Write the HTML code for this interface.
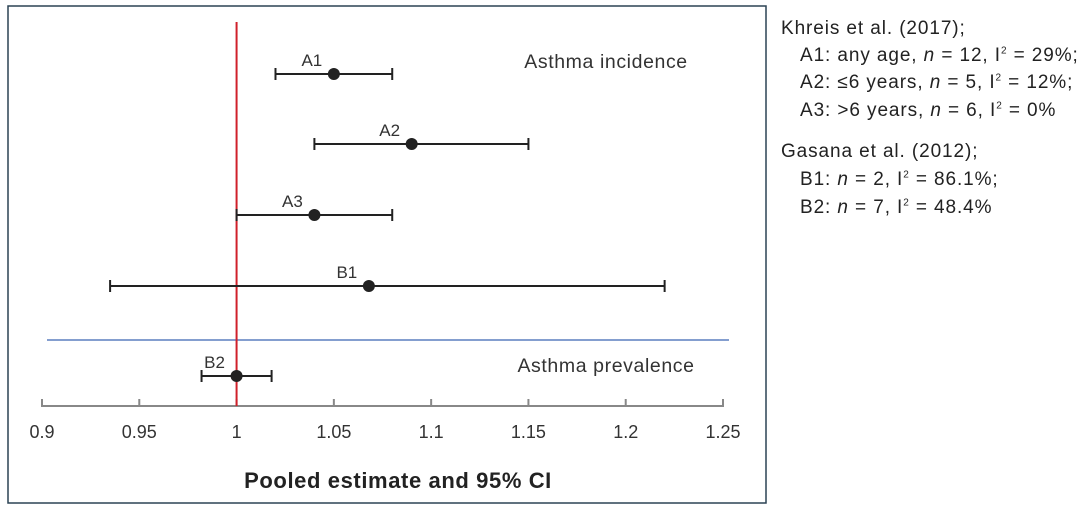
<!DOCTYPE html>
<html><head><meta charset="utf-8"><style>
body{margin:0;background:#fff;width:1088px;height:510px;overflow:hidden;font-family:"Liberation Sans",sans-serif}
#wrap{position:relative;width:1088px;height:510px}
.leg{position:absolute;font-size:19px;letter-spacing:0.9px;color:#222;white-space:nowrap}
</style></head><body>
<div id="wrap">
<svg id="chart" width="1088" height="510" style="position:absolute;left:0;top:0"></svg>
<div class="leg" style="left:781px;top:18px">Khreis et al. (2017);</div>
<div class="leg" style="left:800px;top:45px">A1: any age, <i>n</i> = 12, I<sup style="font-size:10px">2</sup> = 29%;</div>
<div class="leg" style="left:800px;top:72px">A2: ≤6 years, <i>n</i> = 5, I<sup style="font-size:10px">2</sup> = 12%;</div>
<div class="leg" style="left:800px;top:100px">A3: &gt;6 years, <i>n</i> = 6, I<sup style="font-size:10px">2</sup> = 0%</div>
<div class="leg" style="left:781px;top:141px">Gasana et al. (2012);</div>
<div class="leg" style="left:800px;top:169px">B1: <i>n</i> = 2, I<sup style="font-size:10px">2</sup> = 86.1%;</div>
<div class="leg" style="left:800px;top:197px">B2: <i>n</i> = 7, I<sup style="font-size:10px">2</sup> = 48.4%</div>
</div>
<script>
const labels=["A1","A2","A3","B1","B2"];
const estimates=[1.05,1.09,1.04,1.068,1.0];
const lower=[1.02,1.04,1.0,0.935,0.982];
const upper=[1.08,1.15,1.08,1.22,1.018];
const ticks=[0.9,0.95,1,1.05,1.1,1.15,1.2,1.25];
const tickLabels=["0.9","0.95","1","1.05","1.1","1.15","1.2","1.25"];
const rowY=[74,144,215,286,376];
const NS="http://www.w3.org/2000/svg";
const svg=document.getElementById('chart');
const x=v=>42+(v-0.9)/0.35*681;
function mk(t,a,p){const e=document.createElementNS(NS,t);for(const k in a)e.setAttribute(k,a[k]);(p||svg).appendChild(e);return e;}
const frame=mk('rect',{x:8,y:6,width:758,height:497,fill:'none',stroke:'#2b4254','stroke-width':1.5});


const axis=mk('line',{x1:x(0.9),x2:x(1.25),y1:406,y2:406,stroke:'#888','stroke-width':2});


ticks.forEach((t,i)=>{
 const tk=mk('line',{x1:x(t),x2:x(t),y1:399,y2:407,stroke:'#888','stroke-width':2});
 
 
 const tl=mk('text',{x:x(t),y:438,'text-anchor':'middle','font-size':18,fill:'#333','font-family':'Liberation Sans Narrow, Liberation Sans, sans-serif'});
 tl.textContent=tickLabels[i];
 
 
});
const sep=mk('line',{x1:47,x2:729,y1:340,y2:340,stroke:'#5b7fbf','stroke-width':1.5});


const ref=mk('line',{x1:x(1),x2:x(1),y1:22,y2:406,stroke:'#d0202a','stroke-width':2});


labels.forEach((l,i)=>{
 const y=rowY[i];
 const g=mk('g',{});
 
 
 mk('line',{x1:x(lower[i]),x2:x(upper[i]),y1:y,y2:y,stroke:'#222','stroke-width':2},g);
 mk('line',{x1:x(lower[i]),x2:x(lower[i]),y1:y-6,y2:y+6,stroke:'#222','stroke-width':2},g);
 mk('line',{x1:x(upper[i]),x2:x(upper[i]),y1:y-6,y2:y+6,stroke:'#222','stroke-width':2},g);
 mk('circle',{cx:x(estimates[i]),cy:y,r:6,fill:'#222'},g);
 const t=mk('text',{x:x(estimates[i])-22,y:y-8,'text-anchor':'middle','font-size':17,fill:'#333'},g);
 t.textContent=l;
});
const g1=mk('text',{x:606,y:68,'text-anchor':'middle','font-size':19.5,'letter-spacing':0.6,fill:'#333'});
g1.textContent='Asthma incidence';


const g2=mk('text',{x:606,y:372,'text-anchor':'middle','font-size':19.5,'letter-spacing':0.6,fill:'#333'});
g2.textContent='Asthma prevalence';


const xt=mk('text',{x:398,y:488,'text-anchor':'middle','font-size':22,'letter-spacing':0.6,'font-weight':'bold',fill:'#222'});
xt.textContent='Pooled estimate and 95% CI';


</script>
</body></html>
